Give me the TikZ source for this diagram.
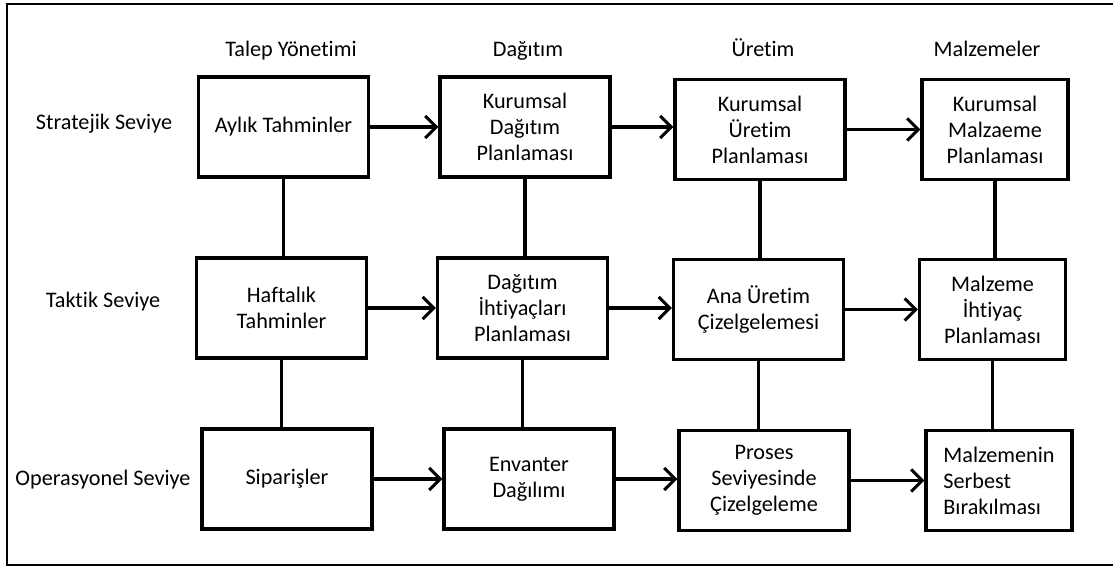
\documentclass[tikz,border=0pt]{standalone}
\usepackage{fontspec}
\setmainfont{Carlito}[RawFeature={-liga;-clig;-calt;-dlig}]
\usetikzlibrary{arrows.meta,calc}
\tikzset{
  kutu/.style={draw, line width=1.7pt, minimum width=85pt, minimum height=50pt, align=center, inner sep=2pt},
  darkutu/.style={kutu, minimum width=73pt},
  ok/.style={line width=1.7pt, -{Straight Barb[length=5.5pt,width=11pt,line width=1.5pt]}},
  cizgi/.style={line width=1.7pt},
  etiket/.style={inner sep=0pt, anchor=base},
}
\begin{document}
\begin{tikzpicture}[x=0.5pt, y=-0.5pt, font=\fontsize{11.1}{13}\selectfont]
    \useasboundingbox (0,0) rectangle (1113,567);
    \draw [line width=1pt] (1113,4) -- (7,4) -- (7,565) -- (1113,565);
    % basliklar
    \node [etiket] (talep) at (291,57) {Talep Yönetimi};
    \node [etiket] (dagitim) at (528,57) {Dağıtım};
    \node [etiket] (uretim) at (763,57) {Üretim};
    \node [etiket] (malzeme) at (987,57) {Malzemeler};
    \node [etiket] (strateji) at (104,130) {Stratejik Seviye};
    \node [etiket] (taktik) at (103,307) {Taktik Seviye};
    \node [etiket] (operasyon) at (103,485) {Operasyonel Seviye};
    % kutular
    \node [kutu] (a1) at (283.5,127) {Aylık Tahminler};
    \node [kutu] (b1) at (525,127) {Kurumsal\\Dağıtım\\Planlaması};
    \node [kutu] (c1) at (760,129.5) {Kurumsal\\Üretim\\Planlaması};
    \node [darkutu] (d1) at (995,129.5) {Kurumsal\\Malzaeme\\Planlaması};
    \node [kutu] (a2) at (281.5,308) {Haftalık\\Tahminler};
    \node [kutu] (b2) at (522.5,308) {Dağıtım\\İhtiyaçları\\Planlaması};
    \node [kutu] (c2) at (758.5,309.5) {Ana Üretim\\Çizelgelemesi};
    \node [darkutu] (d2) at (992.5,309.5) {Malzeme\\İhtiyaç\\Planlaması};
    \node [kutu] (a3) at (287,479) {Siparişler};
    \node [kutu] (b3) at (529,479) {Envanter\\Dağılımı};
    \node [kutu] (c3) at (764,480.5) {Proses\\Seviyesinde\\Çizelgeleme};
    \node [darkutu, align=left] (d3) at (999,480.5) {Malzemenin\\Serbest\\Bırakılması};
    % oklar
    \foreach \r in {1,2,3} {
        \draw [ok] (a\r.east) -- (a\r.east -| b\r.west);
        \draw [ok] (b\r.east) -- (b\r.east -| c\r.west);
        \draw [ok] (c\r.east) -- (c\r.east -| d\r.west);
    }
    % dikey cizgiler
    \foreach \k in {a,b,c,d} {
        \draw [cizgi] (\k1.south) -- (\k1.south |- \k2.north);
        \draw [cizgi] (\k2.south) -- (\k2.south |- \k3.north);
    }
\end{tikzpicture}
\end{document}
